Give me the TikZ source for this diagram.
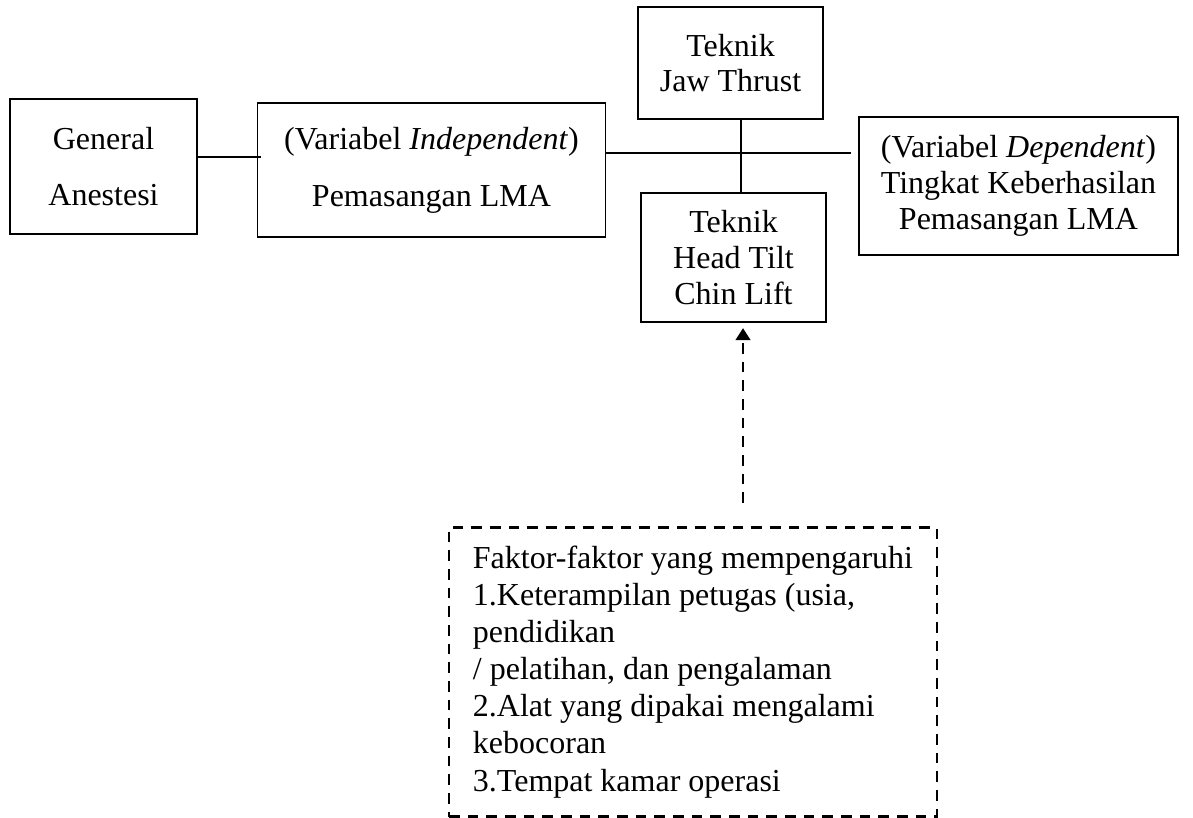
\documentclass[tikz,border=0pt]{standalone}
\usepackage{fontspec}
\setmainfont{Liberation Serif}
\usetikzlibrary{arrows.meta, positioning, calc}
\tikzset{
  box/.style={draw=black, rectangle, align=center, inner sep=1mm, line width=0.6pt, font=\fontsize{12}{13.4}\selectfont},
  tallbox/.style={box, font=\fontsize{12}{21.3}\selectfont},
  factorbox/.style={draw=black, rectangle, align=left, line width=0.9pt, dash pattern=on 4pt off 3pt, minimum width=183pt, minimum height=108.4pt, font=\fontsize{12}{13.9}\selectfont},
  link/.style={draw=black, line width=0.6pt},
  dasharrow/.style={-{Triangle[length=4.5pt, width=5.5pt]}, line width=0.9pt, dash pattern=on 4pt off 3pt, draw=black, shorten >=2pt}
}

\begin{document}
\begin{tikzpicture}[x=0.375pt, y=-0.375pt]
\useasboundingbox (0,0) rectangle (1193,818);

\node[tallbox, minimum width=70.1pt, minimum height=50.6pt] (gen) at (103.5,166.5) {General\\Anestesi};
\node[tallbox, minimum width=130.5pt, minimum height=50.3pt] (indep) at (431.5,170) {(Variabel \textit{Independent})\\Pemasangan LMA};
\node[box, minimum width=69.4pt, minimum height=42pt] (jaw) at (730.5,63) {Teknik\\Jaw Thrust};
\node[box, minimum width=69.4pt, minimum height=48.4pt] (head) at (733.5,257.5) {Teknik\\Head Tilt\\Chin Lift};
\node[box, minimum width=119.6pt, minimum height=51.8pt] (dep) at (1018.5,186) {(Variabel \textit{Dependent})\\Tingkat Keberhasilan\\Pemasangan LMA};
\node[factorbox] (factor) at (693,672) {Faktor-faktor yang mempengaruhi\\1.Keterampilan petugas (usia,\\pendidikan\\/ pelatihan, dan pengalaman\\2.Alat yang dipakai mengalami\\kebocoran\\3.Tempat kamar operasi};

% connector levels
\coordinate (lvlA) at (0,157);
\coordinate (lvlB) at (0,153);
\coordinate (vx) at (741,0);
\coordinate (ftail) at (743,503);

\draw[link] (gen.east |- lvlA) -- ($(indep.west |- lvlA)+(4,0)$);
\draw[link] (indep.east |- lvlB) -- ($(dep.west |- lvlB)+(-7,0)$);
\draw[link] (jaw.south -| vx) -- (head.north -| vx);
\draw[dasharrow] (ftail) -- (head.south -| ftail);

\end{tikzpicture}
\end{document}
